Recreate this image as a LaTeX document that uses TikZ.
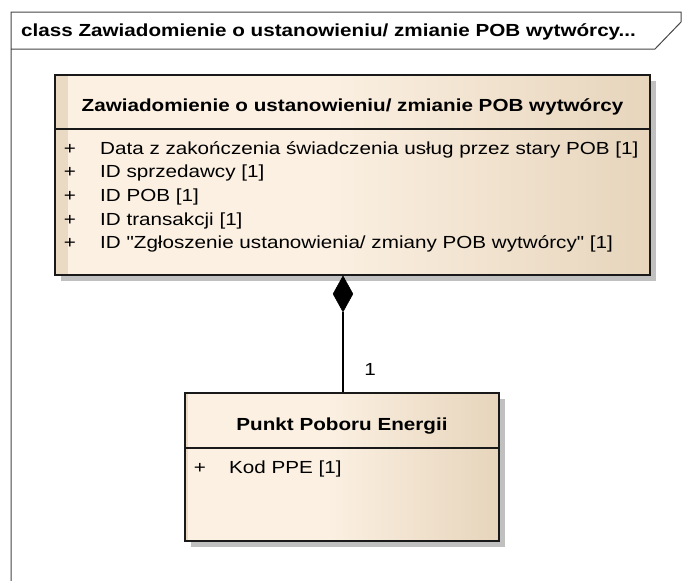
\documentclass[tikz,border=0pt]{standalone}
\usepackage{fontspec}
\setmainfont{Liberation Sans}
\newfontfamily\eafont[FakeStretch=1.18]{Liberation Sans}
\usetikzlibrary{shapes.geometric,shadows,calc}
\definecolor{ealight}{RGB}{251,240,226}
\definecolor{eadark}{RGB}{231,213,188}
\definecolor{eastrip}{RGB}{234,218,195}
\definecolor{shadowgray}{RGB}{192,192,192}
\definecolor{frameline}{RGB}{70,70,70}
\tikzset{
  eatext/.style={font=\eafont\fontsize{17.5}{20}\selectfont, inner sep=0pt, text=black},
  eabold/.style={font=\eafont\bfseries\fontsize{17.5}{20}\selectfont, inner sep=0pt, text=black},
  classbox/.style={rectangle, draw=black!90, line width=1.3pt, inner sep=0pt,
    drop shadow={shadow xshift=6pt, shadow yshift=-6pt, fill=shadowgray, opacity=1},
    path picture={
      \fill[ealight] (path picture bounding box.south west) rectangle (path picture bounding box.north east);
      \shade[left color=ealight, right color=eadark]
        ($(path picture bounding box.south west)!0.45!(path picture bounding box.south east)$)
        rectangle (path picture bounding box.north east);
      \fill[eastrip] (path picture bounding box.south west) rectangle ([xshift=#1]path picture bounding box.north west);
    }},
  sepline/.style={draw=black!90, line width=1.3pt},
  conn/.style={draw=black, line width=1.3pt},
  framestyle/.style={draw=frameline, line width=1pt}
}
\begin{document}
\begin{tikzpicture}[x=1pt,y=-1pt]
\useasboundingbox[fill=white] (0,0) rectangle (689,581);
% diagram frame with tab
\draw[framestyle] (11,581) -- (11,12) -- (681,12) -- (681,22) -- (655,49) -- (11,49);
\node[eabold, anchor=base west] (tabtitle) at (21,36) {class Zawiadomienie o ustanowieniu/ zmianie POB wytwórcy...};

% class 1
\node[classbox=13pt, minimum width=595pt, minimum height=200pt] (c1) at (352.5,175) {};
\draw[sepline] (c1.west |- 0,129) -- (c1.east |- 0,129);
\node[eabold, anchor=base] (t1) at (352.5,111.5) {Zawiadomienie o ustanowieniu/ zmianie POB wytwórcy};
\node[eatext, anchor=base] (p1) at (70,154) {+};
\node[eatext, anchor=base] (p2) at (70,177.7) {+};
\node[eatext, anchor=base] (p3) at (70,201.4) {+};
\node[eatext, anchor=base] (p4) at (70,225.1) {+};
\node[eatext, anchor=base] (p5) at (70,248.8) {+};
\node[eatext, anchor=base west] (a1) at (100,154) {Data z zakończenia świadczenia usług przez stary POB [1]};
\node[eatext, anchor=base west] (a2) at (100,177.7) {ID sprzedawcy [1]};
\node[eatext, anchor=base west] (a3) at (100,201.4) {ID POB [1]};
\node[eatext, anchor=base west] (a4) at (100,225.1) {ID transakcji [1]};
\node[eatext, anchor=base west] (a5) at (100,248.8) {ID "Zgłoszenie ustanowienia/ zmiany POB wytwórcy" [1]};

% class 2
\node[classbox=3pt, minimum width=314pt, minimum height=148pt] (c2) at (342,467) {};
\draw[sepline] (c2.west |- 0,448) -- (c2.east |- 0,448);
\node[eabold, anchor=base] (t2) at (342,430.5) {Punkt Poboru Energii};
\node[eatext, anchor=base] (pb1) at (200,473) {+};
\node[eatext, anchor=base west] (b1) at (229,473) {Kod PPE [1]};

% composition
\node[diamond, fill=black, draw=black, line width=0.5pt, inner sep=0pt, minimum width=20pt, minimum height=36pt, anchor=north] (dia) at (c1.south -| 343,0) {};
\draw[conn] (dia.south) -- (dia.south |- c2.north);
\node[eatext, anchor=base] (mult) at (370,375) {1};
\end{tikzpicture}
\end{document}
